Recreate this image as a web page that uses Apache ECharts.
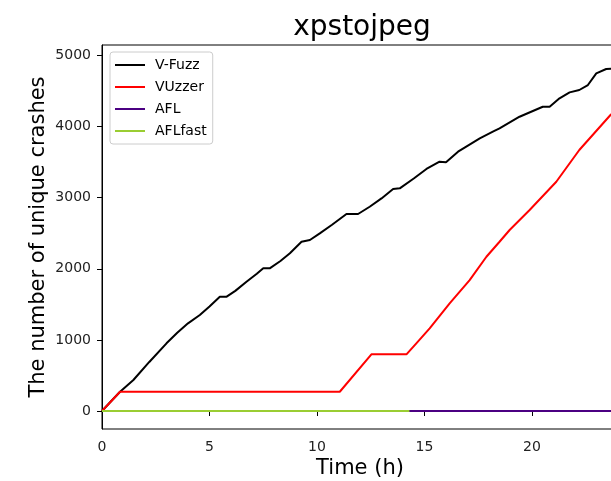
<!DOCTYPE html>
<html>
<head>
<meta charset="utf-8">
<script src="https://cdn.jsdelivr.net/npm/echarts@6/dist/echarts.min.js"></script>
<style>html,body{margin:0;padding:0;background:#fff}#c{width:611px;height:481px}</style>
</head>
<body>
<div id="c"></div>
<script>
const title = 'xpstojpeg';
const seriesNames = ['V-Fuzz', 'VUzzer', 'AFL', 'AFLfast'];
const xTicks = [0, 5, 10, 15, 20];
const yTicks = [0, 1000, 2000, 3000, 4000, 5000];

const vfuzzT = [0, 0.4, 0.84, 1.46, 2.2, 3.0, 3.5, 4.0, 4.55, 5.0, 5.48, 5.8, 6.2, 6.72, 7.2, 7.5, 7.8, 8.3, 8.74, 9.28, 9.67, 10.13, 10.7, 11.37, 11.91, 12.45, 13.0, 13.54, 13.85, 14.5, 15.09, 15.7, 16.0, 16.56, 17.0, 17.57, 18.18, 18.49, 19.42, 20.5, 20.82, 21.28, 21.75, 22.2, 22.6, 22.99, 23.45, 24];
const vfuzzV = [0, 130, 271, 436, 690, 952, 1100, 1233, 1350, 1470, 1608, 1608, 1690, 1819, 1930, 2007, 2007, 2110, 2218, 2381, 2405, 2499, 2620, 2771, 2771, 2873, 2990, 3122, 3132, 3270, 3404, 3507, 3500, 3647, 3730, 3835, 3929, 3976, 4139, 4280, 4280, 4398, 4482, 4515, 4585, 4750, 4810, 4820];

const vuzzerT = [0, 0.84, 11.06, 12.53, 14.16, 14.62, 15.24, 16.17, 17.1, 17.88, 18.49, 18.96, 19.89, 21.13, 22.2, 23.65, 24];
const vuzzerV = [0, 271, 271, 797, 797, 952, 1163, 1515, 1842, 2170, 2381, 2546, 2827, 3225, 3671, 4163, 4260];

const aflT = [0, 24];
const aflV = [0, 0];
const aflfastT = [0, 14.3];
const aflfastV = [0, 0];

const colors = ['#000000', '#ff0000', '#4b0082', '#9acd32'];

function pairs(t, v) { return t.map((x, i) => [x, v[i]]); }
const seriesData = [pairs(vfuzzT, vfuzzV), pairs(vuzzerT, vuzzerV), pairs(aflT, aflV), pairs(aflfastT, aflfastV)];

const font = 'DejaVu Sans';
const chart = echarts.init(document.getElementById('c'), null, {renderer: 'canvas'});
chart.setOption({
  animation: false,
  backgroundColor: '#fff',
  title: {
    text: title, left: 357, top: 9, textAlign: 'center',
    textStyle: {fontFamily: font, fontSize: 28, fontWeight: 'normal', color: '#000'}
  },
  grid: {left: 102, top: 45, right: -7, bottom: 52, show: true, borderColor: '#000', borderWidth: 1, backgroundColor: 'transparent', containLabel: false, outerBoundsMode: 'none'},
  legend: {
    orient: 'vertical', left: 110, top: 52,
    data: seriesNames,
    icon: 'rect', itemWidth: 30, itemHeight: 2, itemGap: 8,
    padding: [6, 6, 6, 5],
    backgroundColor: '#fff', borderColor: '#cccccc', borderWidth: 1, borderRadius: 3,
    textStyle: {fontFamily: font, fontSize: 14, color: '#000', padding: [0, 0, 0, 5], lineHeight: 14}
  },
  xAxis: {
    type: 'value', min: 0, max: 24,
    name: 'Time (h)', nameLocation: 'middle', nameGap: 29, nameMoveOverlap: false,
    nameTextStyle: {fontFamily: font, fontSize: 21, color: '#000'},
    axisLine: {show: true, lineStyle: {color: '#000', width: 1}},
    axisTick: {show: true, inside: false, length: 5, lineStyle: {color: '#000'}, customValues: xTicks},
    axisLabel: {fontFamily: font, fontSize: 14, color: '#222', margin: 11, customValues: xTicks},
    splitLine: {show: false}
  },
  yAxis: {
    type: 'value', min: -253, max: 5148,
    name: 'The number of unique crashes', nameLocation: 'middle', nameGap: 53, nameMoveOverlap: false,
    nameTextStyle: {fontFamily: font, fontSize: 21, color: '#000'},
    axisLine: {show: true, lineStyle: {color: '#000', width: 1}},
    axisTick: {show: true, inside: false, length: 5, lineStyle: {color: '#000'}, customValues: yTicks},
    axisLabel: {fontFamily: font, fontSize: 14, color: '#222', margin: 11, customValues: yTicks, formatter: v => String(v)},
    splitLine: {show: false}
  },
  series: seriesNames.map((n, i) => ({
    name: n, type: 'line', data: seriesData[i], showSymbol: false, symbol: 'none',
    color: colors[i], lineStyle: {color: colors[i], width: 2}, z: 2 + i
  }))
});
</script>
</body>
</html>
